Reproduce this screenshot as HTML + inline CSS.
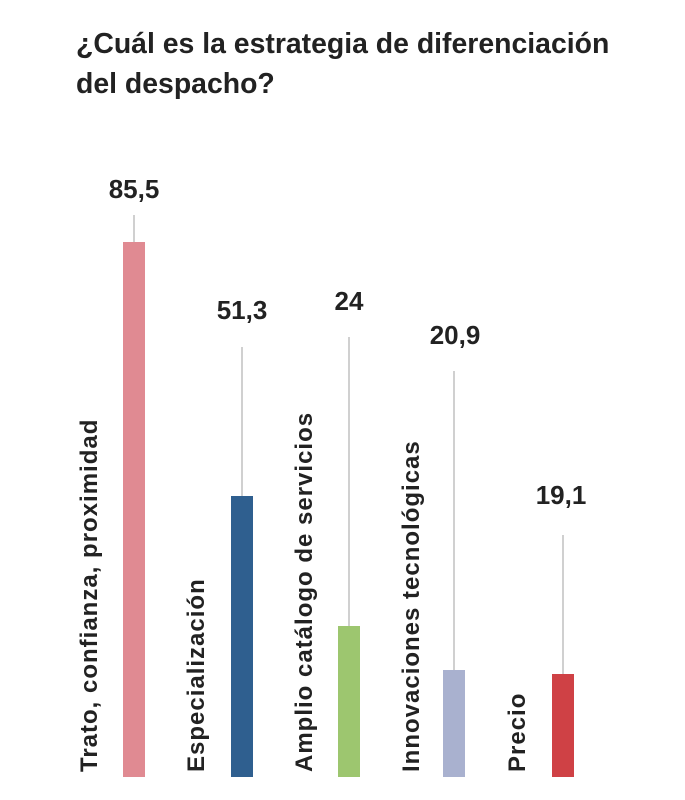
<!DOCTYPE html>
<html><head><meta charset="utf-8"><style>
body{margin:0;width:685px;height:800px;background:#fff;position:relative;font-family:"Liberation Sans",sans-serif;color:#222;overflow:hidden}
.t{position:absolute;left:76px;top:24px;font-size:28.4px;font-weight:bold;line-height:40px;white-space:nowrap}
.bar{position:absolute;width:22px;bottom:23px}
.ln{position:absolute;width:2px;background:#d0d0d0}
.v{position:absolute;width:100px;text-align:center;font-weight:bold;font-size:26px}
.lab{position:absolute;top:772px;transform-origin:0 0;transform:rotate(-90deg);white-space:nowrap;font-size:24px;letter-spacing:1px;line-height:26px;font-weight:bold;color:#222}
</style></head><body>
<div class="t">¿Cuál es la estrategia de diferenciación<br>del despacho?</div>

<div class="ln" style="left:133px;top:215px;height:30px"></div>
<div class="bar" style="left:123px;top:242px;background:#e08a92"></div>
<div class="v" style="left:84px;top:174px">85,5</div>
<div class="lab" style="left:77px">Trato, confianza, proximidad</div>

<div class="ln" style="left:241px;top:347px;height:150px"></div>
<div class="bar" style="left:231px;top:496px;background:#2f5f8f"></div>
<div class="v" style="left:192px;top:295px">51,3</div>
<div class="lab" style="left:184px">Especialización</div>

<div class="ln" style="left:348px;top:337px;height:290px"></div>
<div class="bar" style="left:338px;top:626px;background:#9dc66f"></div>
<div class="v" style="left:299px;top:286px">24</div>
<div class="lab" style="left:292px">Amplio catálogo de servicios</div>

<div class="ln" style="left:453px;top:371px;height:300px"></div>
<div class="bar" style="left:443px;top:670px;background:#a9b1cf"></div>
<div class="v" style="left:405px;top:320px">20,9</div>
<div class="lab" style="left:399px">Innovaciones tecnológicas</div>

<div class="ln" style="left:562px;top:535px;height:140px"></div>
<div class="bar" style="left:552px;top:674px;background:#cf4145"></div>
<div class="v" style="left:511px;top:480px">19,1</div>
<div class="lab" style="left:505px">Precio</div>
</body></html>
